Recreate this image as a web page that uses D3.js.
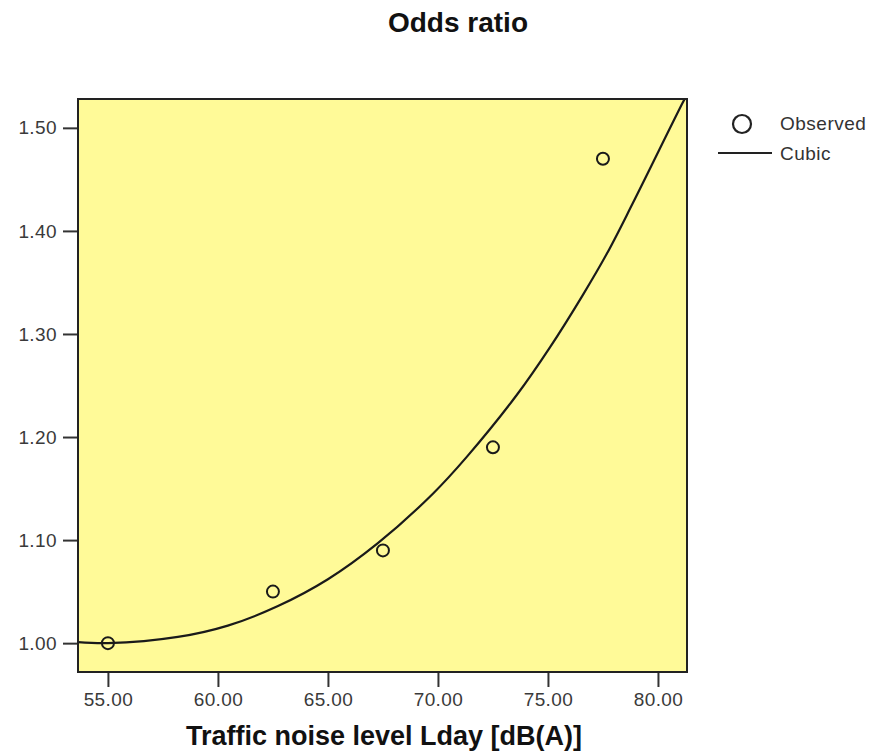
<!DOCTYPE html>
<html>
<head>
<meta charset="utf-8">
<script src="https://cdn.jsdelivr.net/npm/d3@7"></script>
<style>
  html,body{margin:0;padding:0;background:#fff;}
  svg{display:block;font-family:"Liberation Sans",Arial,sans-serif;}
</style>
</head>
<body>
<svg id="chart" width="881" height="751"></svg>
<script>
// observed odds ratios
var obsX=[55,62.5,67.5,72.5,77.5];
var obsY=[1.00,1.05,1.09,1.19,1.47];

// fitted cubic curve
var fitX=[53.64,55,58.18,60.45,62.73,65,67.27,69.77,71.32,73.59,75.09,76.59,77.68,78.86,81.14,81.32];
var fitY=[1.001,1.000,1.006,1.017,1.036,1.062,1.097,1.145,1.181,1.241,1.287,1.338,1.378,1.427,1.525,1.532];

var xTicks=[55,60,65,70,75,80];
var yTicks=[1.00,1.10,1.20,1.30,1.40,1.50];

var svg=d3.select('#chart');
var L=78, R=687, T=99, B=672;

var x=d3.scaleLinear().domain([53.64,81.32]).range([L,R]);
var y=d3.scaleLinear().domain([0.972,1.528]).range([B,T]);

svg.append('defs').append('clipPath').attr('id','plotClip')
  .append('rect').attr('x',L).attr('y',T).attr('width',R-L).attr('height',B-T);

// plot background
svg.append('rect').attr('x',L).attr('y',T).attr('width',R-L).attr('height',B-T)
  .attr('fill','#fffa98');

// axes
var xAxis=svg.append('g').attr('transform','translate(0,'+B+')')
  .call(d3.axisBottom(x).tickValues(xTicks).tickFormat(d3.format('.2f')).tickSize(15).tickSizeOuter(0));
var yAxis=svg.append('g').attr('transform','translate('+L+',0)')
  .call(d3.axisLeft(y).tickValues(yTicks).tickFormat(d3.format('.2f')).tickSize(15).tickSizeOuter(0));
[xAxis,yAxis].forEach(function(a){
  a.select('.domain').remove();
  a.selectAll('.tick line').attr('stroke','#333').attr('stroke-width',2);
  a.selectAll('.tick text').attr('fill','#3a3a3a').attr('font-size','19px').attr('letter-spacing','0.4px')
    .attr('font-family','"Liberation Sans",Arial,sans-serif');
});
xAxis.selectAll('.tick text').attr('y',21).attr('dy','0.71em');
yAxis.selectAll('.tick text').attr('x',-21);

// fitted curve
var line=d3.line().x(function(d){return x(d[0]);}).y(function(d){return y(d[1]);}).curve(d3.curveCatmullRom);
svg.append('path').datum(d3.zip(fitX,fitY))
  .attr('clip-path','url(#plotClip)')
  .attr('d',line).attr('fill','none').attr('stroke','#1a1a1a').attr('stroke-width',2.2);

// observed points
svg.append('g').selectAll('circle').data(d3.zip(obsX,obsY)).enter().append('circle')
  .attr('cx',function(d){return x(d[0]);}).attr('cy',function(d){return y(d[1]);})
  .attr('r',6).attr('fill','none').attr('stroke','#1a1a1a').attr('stroke-width',2);

// frame
svg.append('rect').attr('x',L).attr('y',T).attr('width',R-L).attr('height',B-T)
  .attr('fill','none').attr('stroke','#222').attr('stroke-width',2);

// title + axis title
svg.append('text').attr('x',458).attr('y',32).attr('text-anchor','middle')
  .attr('font-size','28px').attr('font-weight','bold').attr('fill','#111').text('Odds ratio');
svg.append('text').attr('x',384).attr('y',745).attr('text-anchor','middle')
  .attr('font-size','27px').attr('font-weight','bold').attr('fill','#111').text('Traffic noise level Lday [dB(A)]');

// legend
var lg=svg.append('g');
lg.append('circle').attr('cx',742).attr('cy',124).attr('r',9)
  .attr('fill','none').attr('stroke','#222').attr('stroke-width',2.2);
lg.append('text').attr('x',780).attr('y',130).attr('font-size','19px').attr('letter-spacing','0.5px')
  .attr('fill','#333').text('Observed');
lg.append('line').attr('x1',718).attr('x2',772).attr('y1',153).attr('y2',153)
  .attr('stroke','#222').attr('stroke-width',2);
lg.append('text').attr('x',780).attr('y',160).attr('font-size','19px').attr('letter-spacing','0.5px')
  .attr('fill','#333').text('Cubic');
</script>
</body>
</html>
